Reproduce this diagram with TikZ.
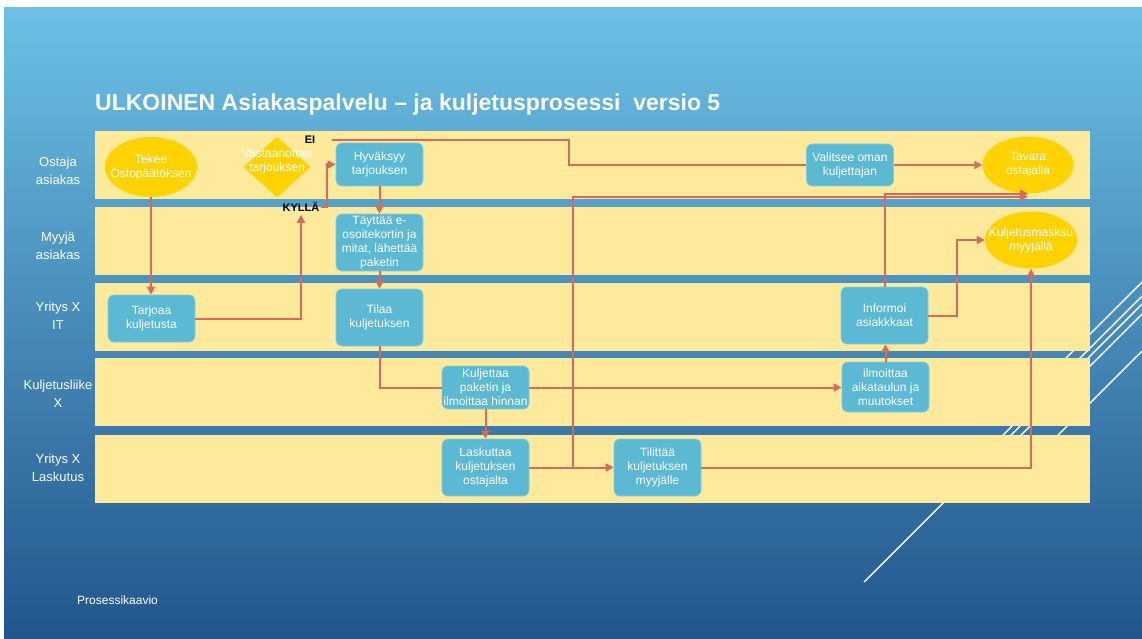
\documentclass[tikz,border=0pt]{standalone}
\usepackage{fontspec}
\setmainfont{Liberation Sans}
\usetikzlibrary{arrows.meta,shapes.geometric}

\definecolor{lanefill}{HTML}{FFEA9C}
\definecolor{bgtop}{HTML}{6CC1E5}
\definecolor{bgbot}{HTML}{22558C}
\definecolor{taskfill}{HTML}{5BB9D4}
\definecolor{taskedge}{HTML}{7FCDE3}
\definecolor{eventfill}{HTML}{FFD200}
\definecolor{flowline}{HTML}{D66A5E}

\tikzset{
  lanebox/.style={fill=lanefill, draw=none},
  lanelabel/.style={text=white, font=\fontsize{13}{18}\selectfont, align=center, inner sep=0pt},
  task/.style={rectangle, rounded corners=6pt, fill=taskfill, draw=taskedge, line width=0.8pt,
    text=white, font=\fontsize{12}{14}\selectfont, align=center, inner sep=0pt, minimum width=87pt},
  event/.style={ellipse, fill=eventfill, draw=none, inner sep=0pt},
  evtext/.style={text=white, font=\fontsize{12}{14}\selectfont, align=center, inner sep=0pt},
  gate/.style={diamond, fill=eventfill, draw=none, inner sep=0pt, minimum width=67pt, minimum height=61pt},
  tag/.style={font=\bfseries\fontsize{11}{13}\selectfont, text=black, inner sep=1pt},
  flow/.style={draw=flowline, line width=2pt},
  arr/.style={-{Triangle[length=8pt,width=8pt]}},
  deco/.style={draw=white, line width=1.4pt}
}

\begin{document}
\begin{tikzpicture}[x=1pt,y=-1pt]
  % slide background
  \fill[white] (0,0) rectangle (1142,639);
  \shade[top color=bgtop, bottom color=bgbot] (4,8) rectangle (1142,639);
  \useasboundingbox (0,0) rectangle (1142,639);

  % decorative diagonal strokes behind the lanes
  \draw[deco] (864,582) -- (1142,304);
  \draw[deco] (1000,493) -- (1142,351);
  \draw[deco] (1000,424) -- (1142,282);
  \draw[deco] (990,448) -- (1142,296);
  \draw[deco] (990,466) -- (1142,314);

  % title and footer
  \node[anchor=base west, text=white, font=\bfseries\fontsize{23}{27}\selectfont, inner sep=0pt]
    (title) at (95,111) {ULKOINEN Asiakaspalvelu – ja kuljetusprosessi \ versio 5};
  \node[anchor=base west, text=white, font=\fontsize{12}{14}\selectfont, inner sep=0pt]
    (footer) at (77,604) {Prosessikaavio};

  % swimlanes
  \fill[lanebox] (95,131) rectangle (1090,199);
  \fill[lanebox] (95,207) rectangle (1090,275);
  \fill[lanebox] (95,283) rectangle (1090,351);
  \fill[lanebox] (95,358) rectangle (1090,426);
  \fill[lanebox] (95,435) rectangle (1090,503);

  \node[lanelabel] (l1) at (58,171) {Ostaja\\asiakas};
  \node[lanelabel] (l2) at (58,246) {Myyjä\\asiakas};
  \node[lanelabel] (l3) at (58,316) {Yritys X\\IT};
  \node[lanelabel] (l4) at (58,394) {Kuljetusliike\\X};
  \node[lanelabel] (l5) at (58,468) {Yritys X\\Laskutus};

  % lane 1: buyer
  \node[event, minimum width=92pt, minimum height=60pt,
        label={[evtext]center:Tekee\\Ostopäätöksen}] (buy) at (151,167) {};
  \node[gate, label={[evtext, yshift=5pt]center:Vastaanottaa\\tarjouksen}] (accept) at (277,167) {};
  \node[tag] (no) at (310,140) {EI};
  \node[tag] (yes) at (301,207) {KYLLÄ};
  \node[task, minimum height=43pt] (approve) at (379.5,164.5) {Hyväksyy\\tarjouksen};
  \node[task, minimum height=42pt] (choose) at (850,165) {Valitsee oman\\kuljettajan};
  \node[event, minimum width=91pt, minimum height=57pt,
        label={[evtext]center:Tavara\\ostajalla}] (goods) at (1028,165) {};

  % lane 2: seller
  \node[task, minimum height=57pt] (fill) at (379.5,242.5) {Täyttää e-\\osoitekortin ja\\mitat, lähettää\\paketin};
  \node[event, minimum width=92pt, minimum height=57pt,
        label={[evtext]center:Kuljetusmasksu\\myyjällä}] (fee) at (1031,240) {};

  % lane 3: company IT
  \node[task, minimum height=47pt] (offer) at (151.5,318.5) {Tarjoaa\\kuljetusta};
  \node[task, minimum height=57pt] (order) at (379.5,317.5) {Tilaa\\kuljetuksen};
  \node[task, minimum height=57pt] (inform) at (884.5,315.5) {Informoi\\asiakkkaat};

  % lane 4: carrier
  \node[task, minimum height=43pt] (carry) at (485.5,387.5) {Kuljettaa\\paketin ja\\ilmoittaa hinnan};
  \node[task, minimum height=50pt] (notify) at (885.5,387) {ilmoittaa\\aikataulun ja\\muutokset};

  % lane 5: invoicing
  \node[task, minimum height=57pt] (bill) at (485.5,467.5) {Laskuttaa\\kuljetuksen\\ostajalta};
  \node[task, minimum height=57pt] (settle) at (657.5,467.5) {Tilittää\\kuljetuksen\\myyjälle};

  \coordinate (goodsin) at ([yshift=-3pt]goods.south);
  \coordinate (nobend) at (569,165);

  % sequence flows
  \draw[flow,arr] (buy.south) -- (buy.south |- offer.north);
  \draw[flow,arr,shorten >=2pt] (offer.east) -| (yes.south);
  \draw[flow,arr] (yes.east) -- ++(6,0) |- (approve.west);
  \draw[flow] (no.east) ++(16,0) -| (nobend) -- (choose.west);
  \draw[flow,arr] (choose.east) -- (goods.west);
  \draw[flow,arr] (approve.south) -- (fill.north);
  \draw[flow,arr] (fill.south) -- (order.north);
  \draw[flow] (order.south) |- (carry.west);
  \draw[flow,arr] (carry.east) -- (carry.east -| notify.west);
  \draw[flow,arr] (carry.south) -- (bill.north);
  \draw[flow,arr] (bill.east) -- (settle.west);
  \draw[flow,arr] (bill.east) ++(44,0) |- (goodsin);
  \draw[flow,arr] (inform.north) |- ([yshift=3pt]goodsin);
  \draw[flow,arr] (inform.east) -- ++(29,0) |- (fee.west);
  \draw[flow,arr] (notify.north) -- (notify.north |- inform.south);
  \draw[flow,arr] (settle.east) -| (fee.south);
\end{tikzpicture}
\end{document}
